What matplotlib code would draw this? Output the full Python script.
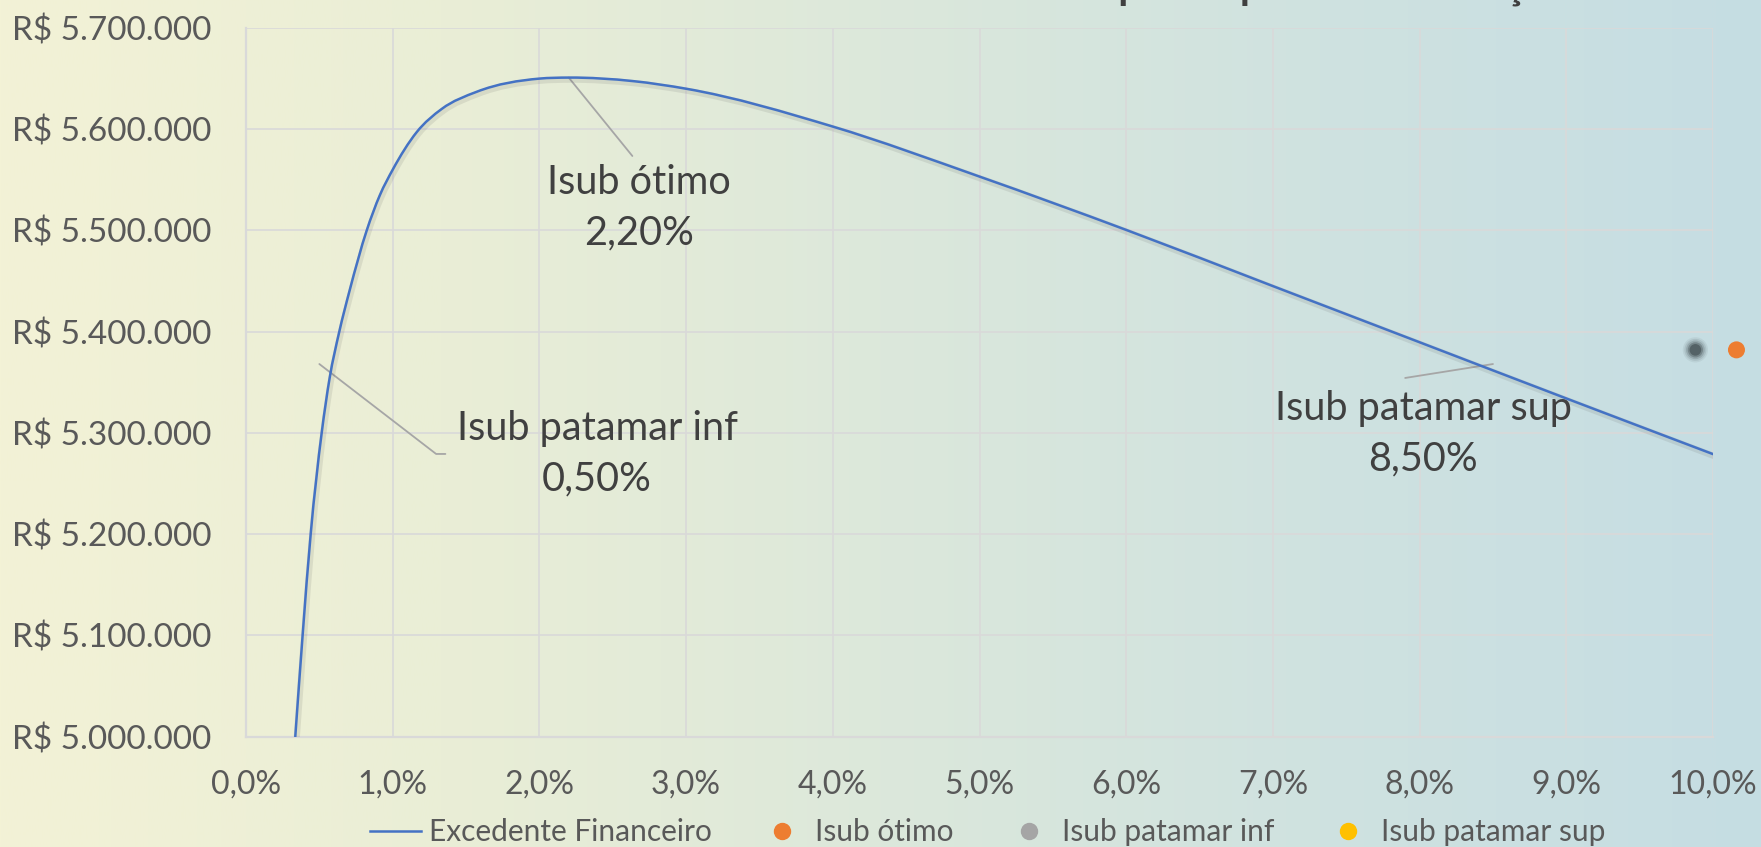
import matplotlib
matplotlib.use("Agg")
import matplotlib.pyplot as plt
import numpy as np
from matplotlib.legend_handler import HandlerLine2D
from matplotlib.lines import Line2D
from matplotlib.path import Path
from matplotlib.patches import PathPatch
import matplotlib.patheffects as pe

# ---------------- data ----------------
isub_pct = [0.336, 0.386, 0.441, 0.516, 0.570, 0.636, 0.707, 0.823, 0.913, 1.0,
            1.163, 1.334, 1.573, 2.0, 2.2, 2.64, 3.0, 4.0, 5.0, 6.0, 7.0, 8.0, 9.0, 10.0]
excedente = [5.000e6, 5.100e6, 5.200e6, 5.300e6, 5.354e6, 5.400e6, 5.441e6, 5.500e6,
             5.535e6, 5.560e6, 5.597e6, 5.620e6, 5.637e6, 5.650e6, 5.651e6, 5.6475e6,
             5.640e6, 5.6026e6, 5.5532e6, 5.5005e6, 5.445e6, 5.3895e6, 5.334e6, 5.279e6]

otimo_x, otimo_y = [10.16], [5.382e6]
inf_x, inf_y = [9.88], [5.382e6]

annot_labels = ["Isub ótimo\n2,20%", "Isub patamar inf\n0,50%", "Isub patamar sup\n8,50%"]
annot_x = [2.2, 0.5, 8.5]
annot_y = [5.651e6, 5.368e6, 5.368e6]

x_ticks = list(range(0, 11))
x_ticklabels = ["0,0%", "1,0%", "2,0%", "3,0%", "4,0%", "5,0%", "6,0%", "7,0%", "8,0%", "9,0%", "10,0%"]
y_ticks = [5.0e6, 5.1e6, 5.2e6, 5.3e6, 5.4e6, 5.5e6, 5.6e6, 5.7e6]
y_ticklabels = ["R$ 5.000.000", "R$ 5.100.000", "R$ 5.200.000", "R$ 5.300.000",
                "R$ 5.400.000", "R$ 5.500.000", "R$ 5.600.000", "R$ 5.700.000"]

legend_labels = ["Excedente Financeiro", "Isub ótimo", "Isub patamar inf", "Isub patamar sup"]
title_prefix = "Excedente Financeiro x Isub "
title_rest = "para o ponto de correção"

# ---------------- style ----------------
plt.rcParams['font.family'] = ['Lato', 'DejaVu Sans']
TXT = "#595959"
DARK = "#404040"
LINE = "#4472C4"
ORANGE = "#ED7D31"
GRAY = "#A5A5A5"
YELLOW = "#FFC000"
GRID = "#D9D9D9"

W, H = 1761, 847
fig = plt.figure(figsize=(W / 100, H / 100), dpi=100)

# background gradient
bg = fig.add_axes([0, 0, 1, 1], zorder=-10)
stops = np.array([[243, 242, 214], [234, 238, 214], [220, 232, 219], [207, 226, 224], [197, 221, 227]]) / 255.0
pos = np.linspace(0, 1, len(stops))
t = np.linspace(0, 1, 600)
grad = np.stack([np.interp(t, pos, stops[:, c]) for c in range(3)], axis=-1)[None, :, :]
bg.imshow(grad, aspect='auto', extent=[0, 1, 0, 1])
bg.set_axis_off()

ax = fig.add_axes([246 / W, (H - 736.5) / H, (1713 - 246) / W, (736.5 - 28) / H])
ax.set_facecolor('none')

# smoothed line: cubic Hermite (as Bezier path) through the data points
xs = np.asarray(isub_pct, float)
ys = np.asarray(excedente, float)
h = np.diff(xs)
d = np.diff(ys) / h
m = np.empty_like(xs)
m[0], m[-1] = d[0], d[-1]
m[1:-1] = (h[:-1] * d[1:] + h[1:] * d[:-1]) / (h[:-1] + h[1:])
verts = [(xs[0], ys[0])]
codes = [Path.MOVETO]
for i in range(len(xs) - 1):
    verts += [(xs[i] + h[i] / 3, ys[i] + m[i] * h[i] / 3),
              (xs[i + 1] - h[i] / 3, ys[i + 1] - m[i + 1] * h[i] / 3),
              (xs[i + 1], ys[i + 1])]
    codes += [Path.CURVE4] * 3
curve = PathPatch(Path(verts, codes), transform=ax.transData, fill=False,
                  edgecolor=LINE, lw=1.8, zorder=5, capstyle='round',
                  path_effects=[pe.SimpleLineShadow(offset=(1.0, -1.5), shadow_color='#555555',
                                                    alpha=0.12, linewidth=4.5),
                                pe.Normal()])
ax.add_patch(curve)

# scatter points
ax.scatter(otimo_x, otimo_y, s=150, color=ORANGE, zorder=6, clip_on=False, edgecolors='none')
for s, a in [(330, 0.08), (250, 0.12), (180, 0.2), (120, 0.35), (70, 0.6)]:
    ax.scatter(inf_x, inf_y, s=s, color='#3E4A4E', alpha=a, zorder=6, clip_on=False, edgecolors='none')

ax.set_xlim(0, 10)
ax.set_ylim(5.0e6, 5.7e6)
ax.set_xticks(x_ticks)
ax.set_xticklabels(x_ticklabels)
ax.set_yticks(y_ticks)
ax.set_yticklabels(y_ticklabels)
ax.tick_params(axis='both', length=0, labelcolor=TXT)
ax.tick_params(axis='y', pad=25, labelsize=24)
ax.tick_params(axis='x', pad=23.5, labelsize=23)
ax.grid(True, color=GRID, lw=1.2)
ax.set_axisbelow(True)
for side in ['top', 'right']:
    ax.spines[side].set_visible(False)
for side in ['left', 'bottom']:
    ax.spines[side].set_color(GRID)
    ax.spines[side].set_linewidth(1.6)


def ypx(v):
    return 5.0e6 + (736.5 - v) / 1012.0 * 1e6


def xpx(v):
    return (v - 246) / 146.7


ann_color = "#A6A6A6"
common = dict(ha='center', va='center', fontsize=28.5, color=DARK, linespacing=1.45)
ax.annotate(annot_labels[0], xy=(annot_x[0], annot_y[0]), xycoords='data',
            xytext=(xpx(639), ypx(208)), **common,
            arrowprops=dict(arrowstyle='-', color=ann_color, lw=1.3, relpos=(0.5, 1.0),
                            shrinkA=5, shrinkB=0))
ax.annotate(annot_labels[1], xy=(annot_x[1], annot_y[1]), xycoords='data',
            xytext=(xpx(597), ypx(454)), **common,
            arrowprops=dict(arrowstyle='-', color=ann_color, lw=1.3, relpos=(0.0, 0.5),
                            connectionstyle='angle,angleA=0,angleB=-37.6,rad=0',
                            shrinkA=6, shrinkB=0))
ax.annotate(annot_labels[2], xy=(annot_x[2], annot_y[2]), xycoords='data',
            xytext=(xpx(1423), ypx(434)), **common,
            arrowprops=dict(arrowstyle='-', color=ann_color, lw=1.3, relpos=(0.44, 1.14),
                            shrinkA=0, shrinkB=0))

# title: only its lowest part shows at the top edge, as in the original
renderer = fig.canvas.get_renderer()
tmp = fig.text(0, 0, title_prefix.rstrip() + "\u00a0", fontsize=29, fontweight='bold')
prefix_w = tmp.get_window_extent(renderer).width
tmp.remove()
fig.text((1118 - prefix_w) / W, 1.0 + 1.0 / H, title_prefix + title_rest, ha='left', va='baseline',
         fontsize=29, fontweight='bold', color=DARK)


# legend: one entry per box, placed where the original puts them
class RightMarker(HandlerLine2D):
    def create_artists(self, legend, orig_handle, xdescent, ydescent, width, height, fontsize, trans):
        arts = super().create_artists(legend, orig_handle, xdescent, ydescent, width, height, fontsize, trans)
        for a in arts:
            if a.get_marker() not in (None, 'None', ''):
                a.set_xdata([width - xdescent - 18])
        return arts


handles = [Line2D([], [], color=LINE, lw=1.8),
           Line2D([], [], color=ORANGE, marker='o', ls='none', markersize=11.5),
           Line2D([], [], color=GRAY, marker='o', ls='none', markersize=11.5),
           Line2D([], [], color=YELLOW, marker='o', ls='none', markersize=11.5)]
starts_px = [370, 756, 1003, 1322]
for hd, lab, sx in zip(handles, legend_labels, starts_px):
    lg = fig.legend([hd], [lab], loc='center left', bbox_to_anchor=(sx / W, (H - 832) / H),
                    frameon=False, fontsize=21.5, handlelength=1.71, handletextpad=0.27,
                    borderpad=0, borderaxespad=0, handler_map={hd: RightMarker()})
    for txt in lg.get_texts():
        txt.set_color(TXT)

fig.savefig("out.png", dpi=100)
